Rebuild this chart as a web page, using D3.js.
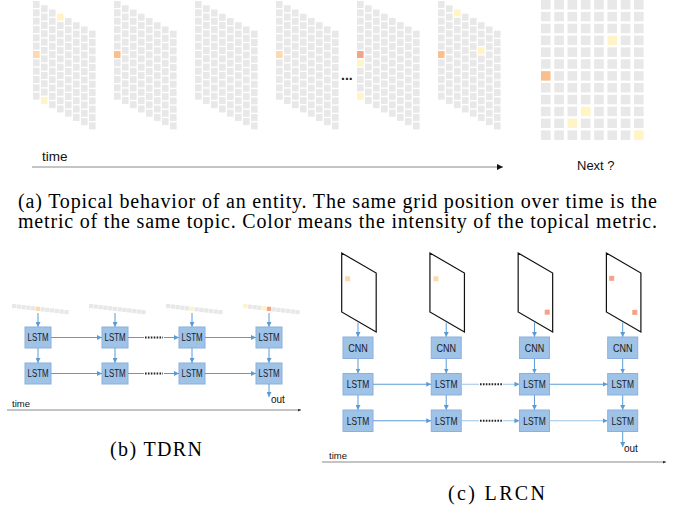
<!DOCTYPE html>
<html><head><meta charset="utf-8">
<script src="https://cdn.jsdelivr.net/npm/d3@7"></script>
<style>html,body{margin:0;padding:0;background:#fff;}svg{display:block;}
.serif{font-family:"Liberation Serif","DejaVu Serif Condensed","DejaVu Serif",serif;}
</style>
</head><body>
<script>
// ---------- data ----------
const frames = ["t1","t2","t3","t4","t5","t6"];
const gridCols = 8, gridRows = 12;
// hot cells per frame: [column, row, intensity level]
const hotCells = [
  [[3,0,1],[0,6,2],[1,11,1]],
  [[0,6,3]],
  [],
  [[0,6,2]],
  [[0,6,4],[0,7,1],[0,11,1]],
  [[0,6,3],[2,0,1],[5,3,1]]
];
const nextHot = [[0,6,3],[5,3,1],[3,9,1],[2,10,1],[7,11,1]];
const levelColors = ["#e8e8e8","#fff4c6","#fcdaad","#f9c08e","#f4a386"];
// TDRN input strips: [cell index, level]
const stripCells = 12;
const stripHot = [[[5,2]],[],[[5,1]],[[0,1],[4,1],[5,4]]];
// LRCN frames: [u fraction, v fraction, level]
const paraHot = [[[0.1,0.36,2]],[[0.1,0.36,2]],[[0.77,0.7,4]],[[0.08,0.36,4],[0.75,0.71,4]]];
const steps = [0,1,2,3];
const captionA = ["(a) Topical behavior of an entity. The same grid position over time is the",
                  "metric of the same topic. Color means the intensity of the topical metric."];
const captionB = "(b) TDRN", captionC = "(c) LRCN";

// ---------- setup ----------
const W = 677, H = 508;
const svg = d3.select("body").append("svg").attr("width", W).attr("height", H);
svg.append("rect").attr("width", W).attr("height", H).attr("fill", "#fff");
const color = d3.scaleOrdinal().domain([0,1,2,3,4]).range(levelColors);
const defs = svg.append("defs");
function mk(id, fill, size){
  defs.append("marker").attr("id", id).attr("viewBox","0 0 10 10").attr("refX",10).attr("refY",5)
    .attr("markerWidth", size).attr("markerHeight", size).attr("markerUnits","userSpaceOnUse")
    .attr("orient","auto").append("path").attr("d","M0,0L10,5L0,10z").attr("fill", fill);
}
mk("blue", "#5b9bd5", 5);
mk("black", "#111", 6);
mk("dot", "#333", 3);
const sans = "'Liberation Sans', Arial, sans-serif";

// ---------- (a) skewed grids ----------
const frameX = d3.scaleLinear().domain([0, frames.length-1]).range([33, 438]);
const colX = d3.scaleLinear().domain([0, gridCols-1]).range([0, 56]);
const colShift = d3.scaleLinear().domain([0, gridCols-1]).range([1, 30.7]);
const rowY = d3.scaleLinear().domain([0, gridRows-1]).range([0, 91.7]);
const cellIdx = d3.range(gridCols*gridRows).map(i => ({c: Math.floor(i/gridRows), r: i%gridRows}));
frames.forEach((f, fi) => {
  const hot = new Map(hotCells[fi].map(d => [d[0]+"_"+d[1], d[2]]));
  svg.append("g").selectAll("rect").data(cellIdx).join("rect")
    .attr("x", d => frameX(fi) + colX(d.c))
    .attr("y", d => colShift(d.c) + rowY(d.r))
    .attr("width", 6.6).attr("height", 7)
    .attr("fill", d => color(hot.get(d.c+"_"+d.r) || 0));
});
svg.append("text").attr("x", 341).attr("y", 80).attr("font-family", sans).attr("font-size", 14)
  .attr("font-weight","bold").attr("fill","#222").text("...");

// next grid
const nX = d3.scaleLinear().domain([0, gridCols-1]).range([541, 634]);
const nY = d3.scaleLinear().domain([0, gridRows-1]).range([0, 130.4]);
const nHot = new Map(nextHot.map(d => [d[0]+"_"+d[1], d[2]]));
svg.append("g").selectAll("rect").data(cellIdx).join("rect")
  .attr("x", d => nX(d.c)).attr("y", d => nY(d.r))
  .attr("width", 9.6).attr("height", 9.5)
  .attr("fill", d => color(nHot.get(d.c+"_"+d.r) || 0));

// time arrow
svg.append("line").attr("x1", 32).attr("x2", 503).attr("y1", 167).attr("y2", 167)
  .attr("stroke", "#8a8a8a").attr("stroke-width", 1).attr("marker-end", "url(#black)");
svg.append("text").attr("x", 42).attr("y", 161).attr("font-family", sans).attr("font-size", 13.5)
  .attr("fill", "#111").text("time");
svg.append("text").attr("x", 577).attr("y", 170).attr("font-family", sans).attr("font-size", 13)
  .attr("fill", "#111").text("Next ?");

// caption (a)
captionA.forEach((t, i) => {
  svg.append("text").attr("class","serif").attr("x", 18).attr("y", 208 + i*20)
    .attr("font-size", 20).attr("fill", "#000").attr("textLength", 639)
    .attr("lengthAdjust", "spacing").text(t);
});

// ---------- helpers ----------
function arrow(x1, y1, x2, y2, col){
  svg.append("line").attr("x1", x1).attr("y1", y1).attr("x2", x2).attr("y2", y2)
    .attr("stroke", col || "#5b9bd5").attr("stroke-width", 1).attr("marker-end", "url(#blue)");
}
function dots(x1, x2, y){
  svg.append("line").attr("x1", x1).attr("x2", x2).attr("y1", y).attr("y2", y)
    .attr("stroke", "#222").attr("stroke-width", 1.8).attr("stroke-dasharray", "1.6,1.3");
}
function box(x, y, w, h, label){
  svg.append("rect").attr("x", x).attr("y", y).attr("width", w).attr("height", h)
    .attr("fill", "#9fc2e7").attr("stroke", "#8bb0dc").attr("stroke-width", 1);
  const tl = label === "CNN" ? 19.5 : Math.min(w - 5, 22.5);
  svg.append("text").attr("x", x + w/2 - tl/2).attr("y", y + h/2).attr("dy", "0.36em")
    .attr("font-family", sans).attr("font-size", 10.5)
    .attr("textLength", tl).attr("lengthAdjust", "spacingAndGlyphs")
    .attr("fill", "#1a1a1a").text(label);
}

// ---------- (b) TDRN ----------
const bX = d3.scaleLinear().domain([0, 3]).range([25, 256]);
const bRow = d3.scaleLinear().domain([0, 1]).range([327, 363]);
const bW = 26, bH = 21;
const sX = d3.scaleLinear().domain([0, stripCells-1]).range([0, 52.3]);
const sY = d3.scaleLinear().domain([0, stripCells-1]).range([304, 310]);
steps.forEach(s => {
  const hot = new Map(stripHot[s].map(d => [d[0], d[1]]));
  svg.append("g").selectAll("rect").data(d3.range(stripCells)).join("rect")
    .attr("x", i => bX(s) - 13 + sX(i)).attr("y", i => sY(i))
    .attr("width", 4.3).attr("height", 4.2)
    .attr("fill", i => color(hot.get(i) || 0));
  const cx = bX(s) + bW/2;
  arrow(cx, 313, cx, bRow(0));
  arrow(cx, bRow(0) + bH, cx, bRow(1));
  [0,1].forEach(r => box(bX(s), bRow(r), bW, bH, "LSTM"));
});
[0,1].forEach(r => {
  const y = bRow(r) + bH/2;
  arrow(bX(0) + bW, y, bX(1), y);
  svg.append("line").attr("x1", bX(1)+bW).attr("x2", 144).attr("y1", y).attr("y2", y)
    .attr("stroke", "#5b9bd5").attr("stroke-width", 1);
  dots(145, 163, y);
  arrow(164, y, bX(2), y);
  arrow(bX(2) + bW, y, bX(3), y);
});
arrow(bX(3) + bW/2, bRow(1) + bH, bX(3) + bW/2, 397);
svg.append("text").attr("x", 271).attr("y", 403).attr("font-family", sans).attr("font-size", 10)
  .attr("fill", "#111").text("out");
svg.append("text").attr("x", 12).attr("y", 407).attr("font-family", sans).attr("font-size", 9.5)
  .attr("fill", "#111").text("time");
svg.append("line").attr("x1", 7).attr("x2", 301).attr("y1", 410).attr("y2", 410)
  .attr("stroke", "#c4c4c4").attr("stroke-width", 2).attr("marker-end", "url(#dot)");
svg.append("text").attr("class","serif").attr("x", 110).attr("y", 456).attr("font-size", 20)
  .attr("textLength", 92).attr("lengthAdjust", "spacing").text(captionB);

// ---------- (c) LRCN ----------
const cX = d3.scaleLinear().domain([0, 3]).range([343, 607.7]);
const cRow = d3.scaleLinear().domain([0, 2]).range([337, 410]);
const cW = 30, cH = 21.5;
const pW = 34.5, pH = 59, pSkew = 20;
steps.forEach(s => {
  const px = cX(s) - 1.3, py = 253;
  svg.append("path")
    .attr("d", `M${px},${py}L${px+pW},${py+pSkew}L${px+pW},${py+pSkew+pH}L${px},${py+pH}Z`)
    .attr("fill", "#fff").attr("stroke", "#111").attr("stroke-width", 1.2);
  paraHot[s].forEach(d => {
    const ux = px + d[0]*pW;
    svg.append("rect").attr("x", ux).attr("y", py + d[0]*pSkew + d[1]*pH)
      .attr("width", 5).attr("height", 5).attr("fill", color(d[2]));
  });
  const cx = cX(s) + cW/2;
  arrow(cx, py + pH + pSkew*0.5 + 0.5, cx, cRow(0));
  arrow(cx, cRow(0) + cH, cx, cRow(1));
  arrow(cx, cRow(1) + cH, cx, cRow(2));
  box(cX(s), cRow(0), cW, cH, "CNN");
  box(cX(s), cRow(1), cW, cH, "LSTM");
  box(cX(s), cRow(2), cW, cH, "LSTM");
});
[1,2].forEach(r => {
  const y = cRow(r) + cH/2;
  arrow(cX(0) + cW, y, cX(1), y);
  svg.append("line").attr("x1", cX(1)+cW).attr("x2", 479).attr("y1", y).attr("y2", y)
    .attr("stroke", "#9dc3e6").attr("stroke-width", 1);
  dots(480, 502, y);
  arrow(503, y, cX(2), y, "#9dc3e6");
  arrow(cX(2) + cW, y, cX(3), y, r === 1 ? "#5b9bd5" : "#9dc3e6");
});
arrow(cX(3) + cW/2, cRow(2) + cH, cX(3) + cW/2, 447);
svg.append("text").attr("x", 624).attr("y", 452).attr("font-family", sans).attr("font-size", 10)
  .attr("fill", "#111").text("out");
svg.append("text").attr("x", 329).attr("y", 459).attr("font-family", sans).attr("font-size", 9.5)
  .attr("fill", "#111").text("time");
svg.append("line").attr("x1", 322).attr("x2", 666).attr("y1", 462).attr("y2", 462)
  .attr("stroke", "#c4c4c4").attr("stroke-width", 2).attr("marker-end", "url(#dot)");
svg.append("text").attr("class","serif").attr("x", 448).attr("y", 500).attr("font-size", 20)
  .attr("textLength", 97).attr("lengthAdjust", "spacing").text(captionC);
</script>
</body></html>
